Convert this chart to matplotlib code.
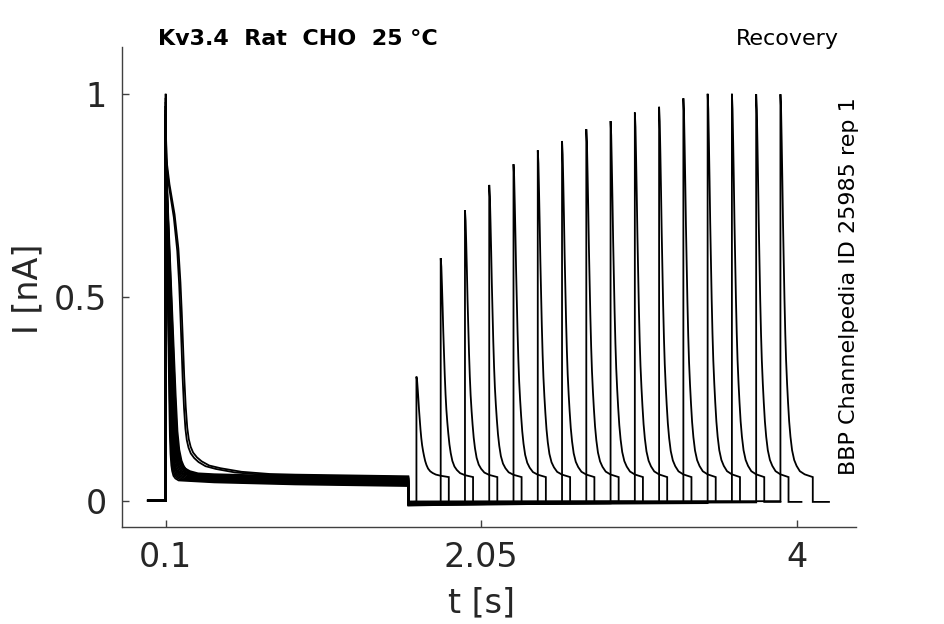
import numpy as np
import matplotlib
matplotlib.use("Agg")
import matplotlib.pyplot as plt

# ---------------- data ----------------
# first (conditioning) pulse: 0.1 s .. 1.6 s
pulse1_on = 0.1
pulse1_off = 1.6
trace_start = -0.01

# per-sweep peak of first pulse
peak1 = [1.00, 0.99, 0.97, 0.96, 0.95, 0.94, 0.93, 0.96,
         0.98, 0.95, 0.94, 0.97, 0.93, 0.95, 0.96, 0.94]
# per-sweep time stretch of the decay (1 = fastest edge of bundle)
stretch1 = [1.17, 1.07, 1.0, 1.15, 1.3, 1.45, 1.6, 1.75,
            1.9, 2.05, 2.2, 2.35, 2.5, 2.65, 2.8, 1.25]
# which sweeps follow the slow (delayed) decay profile
slow_sweep = [True, True, False, False, False, False, False, False,
              False, False, False, False, False, False, False, False]
# plateau level at the end of the first pulse, per sweep
plateau1_end = [0.060, 0.058, 0.036, 0.038, 0.040, 0.042, 0.044, 0.046,
                0.048, 0.050, 0.052, 0.054, 0.056, 0.045, 0.049, 0.053]

# fast decay profile of first pulse (time after onset [s], fraction of transient)
fast_dt = [0.0, 0.002, 0.006, 0.010, 0.014, 0.018, 0.022, 0.026, 0.030,
           0.035, 0.040, 0.048, 0.060, 0.080]
fast_fr = [1.0, 0.83, 0.70, 0.58, 0.46, 0.34, 0.22, 0.12, 0.07,
           0.04, 0.025, 0.012, 0.005, 0.0]
# slow decay profile of first pulse
slow_dt = [0.0, 0.003, 0.020, 0.047, 0.067, 0.078, 0.085, 0.092, 0.098, 0.106,
           0.114, 0.122, 0.132, 0.145, 0.165, 0.190, 0.230, 0.290, 0.400, 0.550]
slow_fr = [1.0, 0.83, 0.76, 0.68, 0.59, 0.50, 0.42, 0.33, 0.25, 0.17,
           0.115, 0.085, 0.065, 0.050, 0.038, 0.028, 0.018, 0.012, 0.004, 0.0]
# slow decline of the plateau (time after onset [s], added current [nA])
plat_dt = [0.07, 0.30, 0.80, 1.50]
plat_add = [0.014, 0.009, 0.004, 0.0]

# baseline after the conditioning pulse, per sweep
baseline2 = [-0.004, -0.006, -0.008, -0.010, -0.012, -0.005, -0.007, -0.009,
             -0.011, -0.003, -0.006, -0.008, -0.010, -0.004, -0.007, -0.002]

# test pulses
pulse2_on = [1.65, 1.80, 1.95, 2.10, 2.25, 2.40, 2.55, 2.70,
             2.85, 3.00, 3.15, 3.30, 3.45, 3.60, 3.75, 3.90]
pulse2_off = [1.85, 2.00, 2.15, 2.30, 2.45, 2.60, 2.75, 2.90,
              3.05, 3.20, 3.35, 3.50, 3.65, 3.80, 3.95, 4.10]
trace_end = [1.95, 2.10, 2.25, 2.40, 2.55, 2.70, 2.85, 3.00,
             3.15, 3.30, 3.45, 3.60, 3.75, 3.90, 4.03, 4.20]
peak2 = [0.305, 0.596, 0.714, 0.776, 0.827, 0.861, 0.884, 0.913,
         0.933, 0.954, 0.968, 0.989, 1.000, 1.000, 0.999, 0.999]
# decay profile of test pulse
p2_dt = [0.0, 0.004, 0.008, 0.012, 0.016, 0.020, 0.025, 0.030, 0.035, 0.041,
         0.047, 0.054, 0.062, 0.072, 0.085, 0.100, 0.120, 0.150, 0.200]
p2_fr = [1.0, 0.96, 0.87, 0.77, 0.66, 0.57, 0.46, 0.37, 0.30, 0.24,
         0.19, 0.14, 0.10, 0.065, 0.04, 0.025, 0.012, 0.005, 0.0]
p2_plat_start = 0.066
p2_plat_end = 0.058
baseline3 = -0.003

xticks = [0.1, 2.05, 4]
xticklabels = ["0.1", "2.05", "4"]
yticks = [0, 0.5, 1]
yticklabels = ["0", "0.5", "1"]

# ---------------- figure ----------------
fig = plt.figure(figsize=(9.45, 6.24), dpi=100)
ax = fig.add_axes([0.1291, 0.1559, 0.7767, 0.7688])

for k in range(len(peak2)):
    t = [trace_start, pulse1_on]
    y = [0.0, 0.0]
    pe = plateau1_end[k]
    if slow_sweep[k]:
        dts, frs = slow_dt, slow_fr
    else:
        dts, frs = fast_dt, fast_fr
    for dt, fr in zip(dts, frs):
        tt = dt * stretch1[k]
        plat = pe + float(np.interp(tt, plat_dt, plat_add))
        t.append(pulse1_on + tt)
        y.append(plat + (peak1[k] - plat) * fr)
    for dt, a in zip(plat_dt, plat_add):
        tt = pulse1_on + dt
        if tt > t[-1]:
            t.append(tt)
            y.append(pe + a)
    t += [pulse1_off, pulse1_off, pulse2_on[k]]
    y += [pe, baseline2[k], baseline2[k] * 0.6]
    on = pulse2_on[k]
    for dt, fr in zip(p2_dt, p2_fr):
        frac_t = dt / 0.2
        plat = p2_plat_start + (p2_plat_end - p2_plat_start) * frac_t
        t.append(on + dt)
        y.append(plat + (peak2[k] - plat) * fr)
    t += [pulse2_off[k], trace_end[k]]
    y += [baseline3, baseline3]
    ax.plot(t, y, color="black", lw=1.3, solid_joinstyle="miter")

ax.set_xlim(-0.170, 4.367)
ax.set_ylim(-0.064, 1.115)
ax.set_xticks(xticks)
ax.set_xticklabels(xticklabels)
ax.set_yticks(yticks)
ax.set_yticklabels(yticklabels)

spc = "#404040"
for side in ["top", "right"]:
    ax.spines[side].set_visible(False)
for side in ["left", "bottom"]:
    ax.spines[side].set_color(spc)
    ax.spines[side].set_linewidth(1.0)
ax.tick_params(direction="in", length=5, width=1.0, color=spc,
               labelsize=24, labelcolor="#262626")
ax.tick_params(axis="x", pad=10)
ax.tick_params(axis="y", pad=11)

ax.set_xlabel("t [s]", fontsize=24, color="#262626")
ax.xaxis.label.set_va("center")
ax.xaxis.set_label_coords(0.49, -0.159)
ax.set_ylabel("I [nA]", fontsize=24, color="#262626")
ax.yaxis.label.set_va("center")
ax.yaxis.set_label_coords(-0.128, 0.4955)

fig.text(158 / 945, 1 - 39 / 624, "Kv3.4  Rat  CHO  25 °C", fontsize=16,
         fontweight="bold", ha="left", va="center", color="black")
fig.text(839 / 945, 1 - 39 / 624, "Recovery", fontsize=16,
         ha="right", va="center", color="black")
fig.text(849 / 945, 1 - 286 / 624, "BBP Channelpedia ID 25985 rep 1",
         fontsize=16, rotation=90, ha="center", va="center", color="black")

fig.savefig("out.png", dpi=100)
